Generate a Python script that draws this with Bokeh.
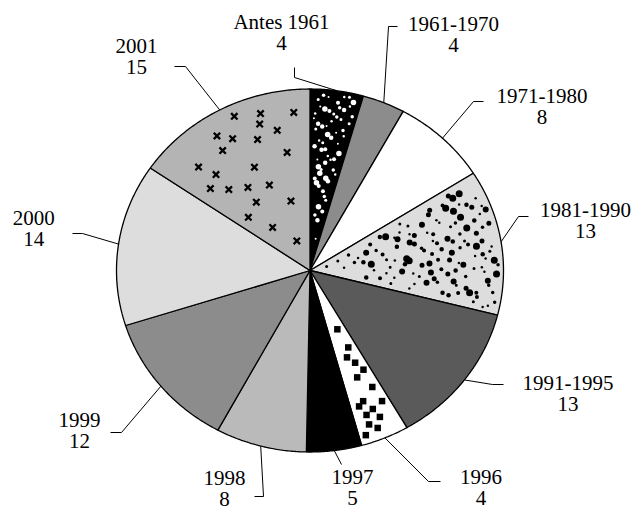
import numpy as np
from bokeh.plotting import figure
from bokeh.models import ColumnDataSource, Range1d
from bokeh.core.properties import value
from bokeh.embed import file_html
from bokeh.resources import INLINE

# ---------------- data ----------------
categories = ["Antes 1961", "1961-1970", "1971-1980", "1981-1990", "1991-1995",
              "1996", "1997", "1998", "1999", "2000", "2001"]
# slice shares (%)
shares = [4.45, 3.55, 8.0, 12.95, 12.7, 4.05, 4.6, 7.6, 12.2, 14.45, 15.45]
# numbers printed under each category
label_values = [4, 4, 8, 13, 13, 4, 5, 8, 12, 14, 15]

# ---------------- styles / layout ----------------
fills = ["#000000", "#8c8c8c", "#ffffff", "#dddddd", "#5a5a5a", "#ffffff",
         "#000000", "#bababa", "#8c8c8c", "#dddddd", "#b4b4b4"]
patterns = ["wdots", None, None, "bdots", None, "squares", None, None, None, None, "x"]

CX, CY, RX, RY = 309.5, 270.0, 193.5, 181.5   # pixel layout of the pie
FONT = value("Liberation Serif")
FSIZE = "21px"
LINE_GAP = 21.0

label_pos = [(281, 21.5), (453, 23.5), (541.5, 95.7), (585, 209), (567.5, 382),
             (480.5, 476.5), (352, 476.5), (224, 477.5), (79, 419.7), (33.3, 217.7), (136, 45.7)]
leader_pts = [[(294, 77), (294, 67)], [(388, 26), (397, 26)], [(473, 101), (483, 101)],
              [(518, 216), (528, 216)], [(492, 384), (503, 384)], [(428, 481), (440, 481)],
              [(341, 464)], [(263, 496), (254, 496)], [(121, 432), (110, 432)],
              [(82, 233), (72, 233)], [(185, 66), (174, 66)]]

# ---------------- geometry ----------------
total = float(sum(shares))
cum = np.concatenate([[0.0], np.cumsum(shares)]) / total * 2 * np.pi
starts, ends = cum[:-1], cum[1:]

def ell(theta, rho=1.0):
    return CX + RX * rho * np.sin(theta), CY - RY * rho * np.cos(theta)

xs, ys = [], []
for a0, a1 in zip(starts, ends):
    n = max(3, int(np.degrees(a1 - a0) * 2))
    th = np.linspace(a0, a1, n)
    ex, ey = ell(th)
    xs.append([CX] + list(ex) + [CX])
    ys.append([CY] + list(ey) + [CY])

p = figure(width=634, height=511, x_range=Range1d(0, 634), y_range=Range1d(511, 0),
           output_backend="svg", toolbar_location=None, min_border=0,
           x_axis_type=None, y_axis_type=None, outline_line_color=None,
           background_fill_color="white", border_fill_color="white")
p.grid.visible = False

p.patches(xs="xs", ys="ys", fill_color="fill", line_color="black", line_width=1.3,
          source=ColumnDataSource(dict(xs=xs, ys=ys, fill=fills, cat=categories)))

# ---------------- texture marks inside slices ----------------
def halton(i, b):
    f, r = 1.0, 0.0
    while i > 0:
        f /= b
        r += f * (i % b)
        i //= b
    return r

def fill_points(a0, a1, n, margin, skip=1):
    R = (RX + RY) / 2
    pts = []
    i = skip
    while len(pts) < n and i < 50000:
        u, v = halton(i, 2), halton(i, 3)
        i += 1
        rho = np.sqrt(u)
        phi = a0 + v * (a1 - a0)
        if rho * R > R - margin:
            continue
        if rho * R * np.sin(phi - a0) < margin or rho * R * np.sin(a1 - phi) < margin:
            continue
        pts.append(ell(phi, rho))
    return [q[0] for q in pts], [q[1] for q in pts]

for k, pat in enumerate(patterns):
    if pat is None:
        continue
    a0, a1 = starts[k], ends[k]
    if pat == "wdots":
        px, py = fill_points(a0, a1, 60, 3.5)
        sz = [3, 4.5, 2.5, 5.5, 3.5, 2, 4]
        sizes = [sz[j % len(sz)] for j in range(len(px))]
        p.scatter(px, py, size=sizes, marker="circle", fill_color="white", line_color=None)
    elif pat == "bdots":
        px, py = fill_points(a0, a1, 125, 4.5, skip=7)
        sz = [3, 5, 2.5, 7, 4, 3.5, 6, 2.5, 4.5]
        sizes = [sz[j % len(sz)] for j in range(len(px))]
        p.scatter(px, py, size=sizes, marker="circle", fill_color="black", line_color=None)
    elif pat == "squares":
        px, py = fill_points(a0, a1, 16, 6, skip=3)
        p.scatter(px, py, size=6.5, marker="square", fill_color="black", line_color=None)
    elif pat == "x":
        px, py = fill_points(a0, a1, 22, 10, skip=5)
        p.scatter(px, py, size=9, marker="x", line_color="black", line_width=2.3)

# ---------------- leader lines ----------------
lx, ly = [], []
mids = (starts + ends) / 2
for k in range(len(categories)):
    sx, sy = ell(mids[k])
    pts = [(sx, sy)] + leader_pts[k]
    lx.append([q[0] for q in pts])
    ly.append([q[1] for q in pts])
p.multi_line(lx, ly, line_color="black", line_width=1)

# ---------------- labels ----------------
tx = [q[0] for q in label_pos]
ty1 = [q[1] for q in label_pos]
ty2 = [q[1] + LINE_GAP for q in label_pos]
p.text(x=tx, y=ty1, text=categories, text_font=FONT, text_font_size=FSIZE,
       text_align="center", text_baseline="middle", text_color="black")
p.text(x=tx, y=ty2, text=[str(v) for v in label_values], text_font=FONT,
       text_font_size=FSIZE, text_align="center", text_baseline="middle", text_color="black")

open("out.html", "w").write(file_html(p, INLINE))
